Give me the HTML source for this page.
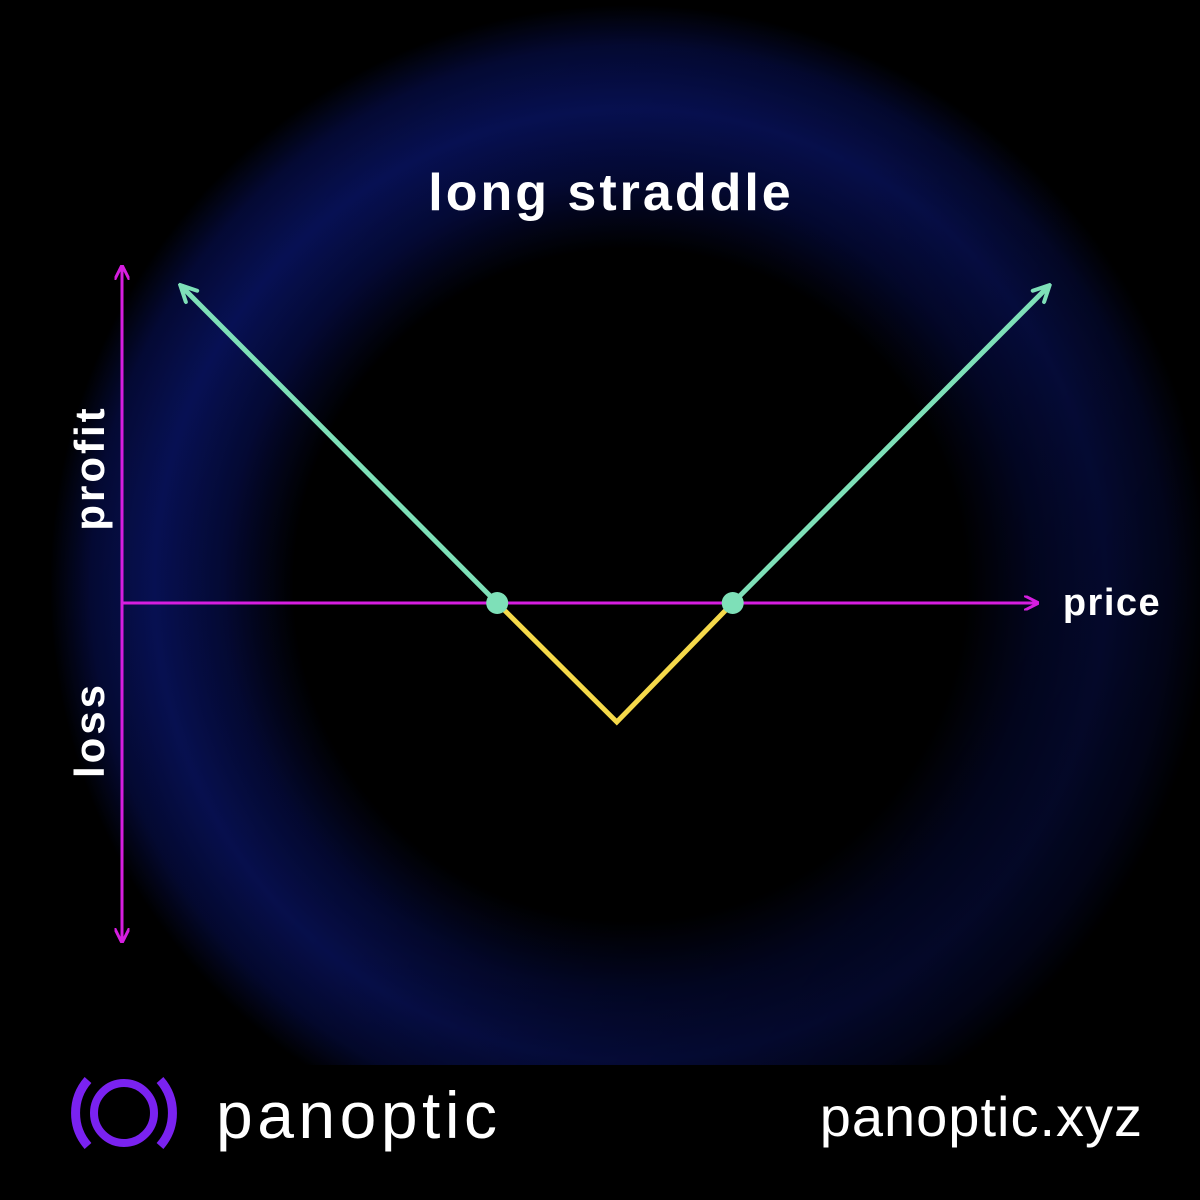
<!DOCTYPE html>
<html><head><meta charset="utf-8"><style>
html,body{margin:0;padding:0;background:#000;}
#wrap{position:relative;width:1200px;height:1200px;overflow:hidden;background:#000;font-family:"Liberation Sans",sans-serif;}
</style></head><body>
<div id="wrap">
<svg id="chart" width="1200" height="1200" viewBox="0 0 1200 1200">
<defs>
<radialGradient id="ring" cx="630" cy="585" r="580" gradientUnits="userSpaceOnUse">
<stop offset="0" stop-color="#000"/>
<stop offset="0.58" stop-color="#000"/>
<stop offset="0.7" stop-color="#040a3a"/>
<stop offset="0.82" stop-color="#08125c"/>
<stop offset="0.93" stop-color="#040a38"/>
<stop offset="1" stop-color="#000"/>
</radialGradient>
<linearGradient id="shade" x1="0" y1="0" x2="1" y2="0.6">
<stop offset="0" stop-color="#000" stop-opacity="0"/>
<stop offset="0.6" stop-color="#000" stop-opacity="0.2"/>
<stop offset="1" stop-color="#000" stop-opacity="0.6"/>
</linearGradient>
<marker id="mArrow" viewBox="0 0 10 10" refX="8" refY="5" markerWidth="5" markerHeight="5" orient="auto-start-reverse"><path d="M0,0 L10,5 L0,10" fill="none" stroke="#d61ee0" stroke-width="2"/></marker>
<marker id="gArrow" viewBox="0 0 10 10" refX="8" refY="5" markerWidth="4" markerHeight="4" orient="auto-start-reverse"><path d="M1,1 L9,5 L1,9" fill="none" stroke="#7ee0b8" stroke-width="2" stroke-linecap="round"/></marker>
</defs>
<rect x="0" y="0" width="1200" height="1065" fill="url(#ring)"/>
<rect x="0" y="0" width="1200" height="1065" fill="url(#shade)"/>
<text x="611" y="210" text-anchor="middle" fill="#fff" font-size="52" font-weight="bold" letter-spacing="3">long straddle</text>
<line x1="122" y1="603" x2="1036" y2="603" stroke="#d61ee0" stroke-width="3" marker-end="url(#mArrow)"/>
<line x1="122" y1="268" x2="122" y2="940" stroke="#d61ee0" stroke-width="3" marker-start="url(#mArrow)" marker-end="url(#mArrow)"/>
<text x="1112" y="615" text-anchor="middle" fill="#fff" font-size="38" font-weight="bold" letter-spacing="1.5">price</text>
<text transform="translate(104,468) rotate(-90)" text-anchor="middle" fill="#fff" font-size="42" font-weight="bold" letter-spacing="3">profit</text>
<text transform="translate(104,730) rotate(-90)" text-anchor="middle" fill="#fff" font-size="42" font-weight="bold" letter-spacing="3">loss</text>
<g id="series"></g>
<g>
<circle cx="124" cy="1113" r="30" fill="none" stroke="#7a22f0" stroke-width="8"/>
<path d="M88,1080 A50,50 0 0,0 88,1146" fill="none" stroke="#7a22f0" stroke-width="9"/>
<path d="M160,1080 A50,50 0 0,1 160,1146" fill="none" stroke="#7a22f0" stroke-width="9"/>
<text x="216" y="1138" fill="#fff" font-size="66" letter-spacing="4.5">panoptic</text>
<text x="1143" y="1136" text-anchor="end" fill="#fff" font-size="56" letter-spacing="1">panoptic.xyz</text>
</g>
</svg>
<script>
const prices=[6.7,41,54,66.6,100.9];
const payoffs=[2.66,0,-1,0,2.66];
const breakevens=[41,66.6];
const xs=p=>120+p*9.2;
const ys=v=>603-v*119;
const g=document.getElementById('series');
const ns='http://www.w3.org/2000/svg';
function mk(t,a){const e=document.createElementNS(ns,t);for(const k in a)e.setAttribute(k,a[k]);g.appendChild(e);return e;}
let l=mk('polyline',{points:[[xs(prices[1]),ys(payoffs[1])],[xs(prices[2]),ys(payoffs[2])],[xs(prices[3]),ys(payoffs[3])]].join(' '),fill:'none',stroke:'#f5d94a','stroke-width':5});


let a=mk('line',{x1:xs(prices[1]),y1:ys(payoffs[1]),x2:xs(prices[0]),y2:ys(payoffs[0]),stroke:'#7ee0b8','stroke-width':5,'marker-end':'url(#gArrow)'});


let b=mk('line',{x1:xs(prices[3]),y1:ys(payoffs[3]),x2:xs(prices[4]),y2:ys(payoffs[4]),stroke:'#7ee0b8','stroke-width':5,'marker-end':'url(#gArrow)'});


breakevens.forEach(p=>{const c=mk('circle',{cx:xs(p),cy:ys(0),r:11,fill:'#7ee0b8'});

});
</script>
</div>
</body></html>
